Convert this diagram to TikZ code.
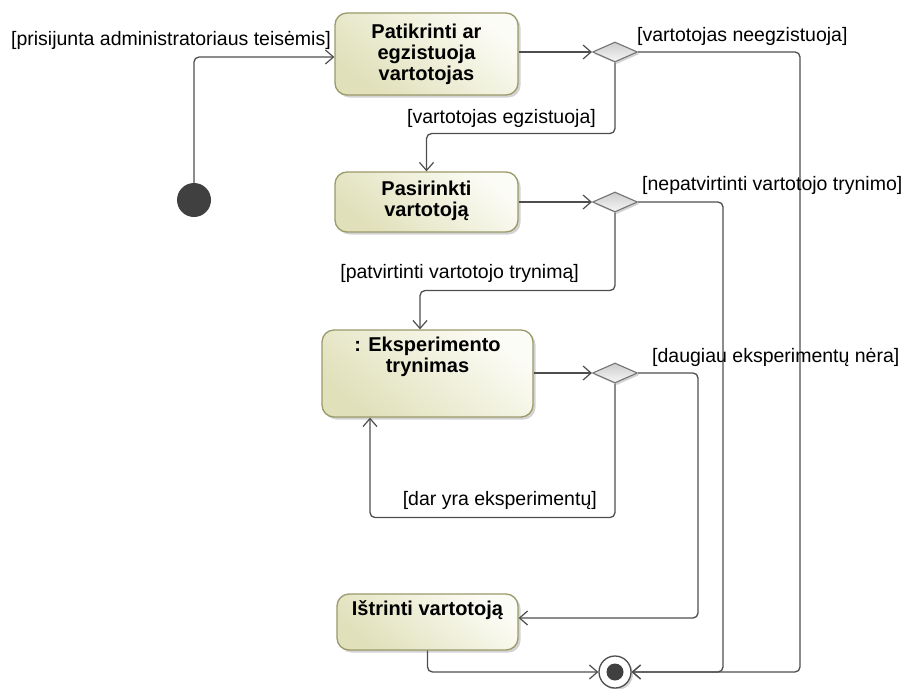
\documentclass[tikz,border=0pt]{standalone}
\usepackage{fontspec}
\setmainfont{Liberation Sans}
\usetikzlibrary{shapes.geometric,arrows.meta,shadows}

\definecolor{flow}{HTML}{4E4E4E}
\definecolor{boxedge}{HTML}{9A9A6A}
\definecolor{boxtop}{HTML}{E0E0BA}
\definecolor{boxbot}{HTML}{FCFCF6}
\definecolor{dmdtop}{HTML}{F6F6F6}
\definecolor{dmdbot}{HTML}{CDCDCD}
\definecolor{dot}{HTML}{404040}

\tikzset{
  actionbox/.style={draw=boxedge, line width=1.3pt, rounded corners=12pt,
    top color=boxtop, bottom color=boxbot, shading angle=140,
    drop shadow={shadow xshift=2.5pt, shadow yshift=-2.5pt, opacity=0.35, fill=gray},
    inner sep=0pt},
  actiontext/.style={font=\bfseries\fontsize{20}{21}\selectfont, align=center, inner sep=0pt},
  guard/.style={font=\fontsize{19.5}{21}\selectfont, inner sep=0pt},
  decision/.style={diamond, draw=gray!90!black, line width=1.1pt, inner sep=0pt,
    minimum width=45pt, minimum height=20pt,
    top color=dmdbot, bottom color=dmdtop,
    drop shadow={shadow xshift=2pt, shadow yshift=-2pt, opacity=0.35, fill=gray}},
  flowline/.style={draw=flow, line width=1.3pt, rounded corners=5pt,
    -{Straight Barb[length=8pt,width=14pt,line width=1.2pt]}},
}

\begin{document}
\begin{tikzpicture}[x=1pt,y=-1pt]
\useasboundingbox (0,0) rectangle (902,688);

% initial node
\node[circle, fill=dot, minimum size=34pt, inner sep=0pt] (init) at (194,200) {};

% actions
\node[actionbox, minimum width=183pt, minimum height=82pt] (a1) at (426.5,54) {};
\node[actiontext] (a1t) at (a1.center) {Patikrinti ar\\egzistuoja\\vartotojas};

\node[actionbox, minimum width=183pt, minimum height=60pt] (a2) at (426.5,202) {};
\node[actiontext] (a2t) at ([yshift=1pt]a2.center) {Pasirinkti\\vartotoją};

\node[actionbox, minimum width=211pt, minimum height=87pt] (a3) at (427.5,373.5) {};
\node[actiontext, anchor=north] (a3t) at ([yshift=-7pt]a3.north) {: Eksperimento\\trynimas};

\node[actionbox, minimum width=181pt, minimum height=56pt] (a4) at (427.5,622) {};
\node[actiontext, anchor=north] (a4t) at ([yshift=-7pt]a4.north) {Ištrinti vartotoją};

% decisions
\node[decision] (d1) at (615,52) {};
\node[decision] (d2) at (615,202) {};
\node[decision] (d3) at (615,373) {};

% final node
\node[circle, draw=flow, line width=1.3pt, fill=white, minimum size=32pt, inner sep=0pt,
  drop shadow={shadow xshift=2pt, shadow yshift=-2pt, opacity=0.35, fill=gray}] (fin) at (615,672) {};
\fill[dot] (fin.center) circle (8.5pt);

% flows
\draw[flowline] (init.north) |- ([yshift=-3pt]a1.west);
\draw[flowline] (a1.east |- d1.west) -- (d1.west);
\draw[flowline] (d1.east) -| (800,672) -- (fin.east);
\draw[flowline] (d1.south) -- ++(0,71) -| (a2.north);
\draw[flowline] (a2.east |- d2.west) -- (d2.west);
\draw[flowline] (d2.east) -| (723,672) -- (fin.east);
\draw[flowline] (d2.south) -- ++(0,78) -| ([xshift=-7.5pt]a3.north);
\draw[flowline] (a3.east |- d3.west) -- (d3.west);
\draw[flowline] (d3.east) -| (698,618) -- ([yshift=4pt]a4.east);
\draw[flowline] (d3.south) -- ++(0,134) -| ([xshift=-57.5pt]a3.south);
\draw[flowline] (a4.south) |- (fin.west);

% guards
\node[guard, anchor=east] (g0) at (331,40) {[prisijunta administratoriaus teisėmis]};
\node[guard, anchor=west] (g1) at (637,36) {[vartotojas neegzistuoja]};
\node[guard, anchor=east] (g2) at (596,118) {[vartotojas egzistuoja]};
\node[guard, anchor=west] (g3) at (642,185) {[nepatvirtinti vartotojo trynimo]};
\node[guard, anchor=east] (g4) at (579,273) {[patvirtinti vartotojo trynimą]};
\node[guard, anchor=west] (g5) at (652,357) {[daugiau eksperimentų nėra]};
\node[guard, anchor=east] (g6) at (597,500) {[dar yra eksperimentų]};
\end{tikzpicture}
\end{document}
